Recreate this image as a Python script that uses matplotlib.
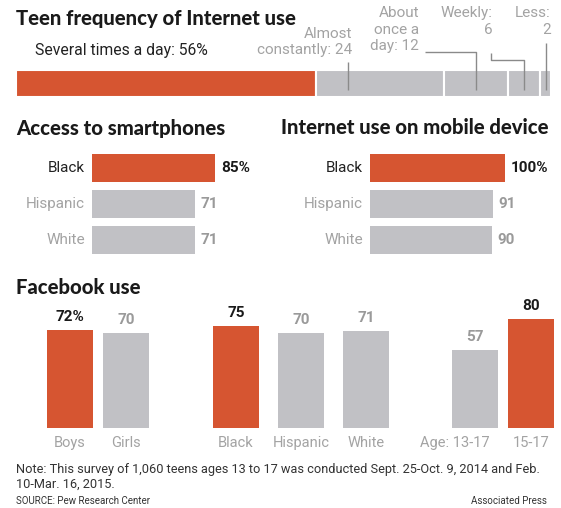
import matplotlib
matplotlib.use("Agg")
import matplotlib.pyplot as plt

# ---- data ----
freq_labels = ["Several times a day", "Almost constantly", "About once a day", "Weekly", "Less"]
freq_values = [56, 24, 12, 6, 2]

race_groups = ["Black", "Hispanic", "White"]
smartphone_access = [85, 71, 71]
mobile_internet = [100, 91, 90]

fb_labels = ["Boys", "Girls", "Black", "Hispanic", "White", "Age: 13-17", "15-17"]
fb_values = [72, 70, 75, 70, 71, 57, 80]
fb_highlight = [True, False, True, False, False, False, True]

ORANGE = "#d65531"
GRAY = "#c1c1c5"
LABEL_GRAY = "#a3a3a3"
DARK = "#1a1a1a"

W, H = 561, 508
plt.rcParams['font.family'] = ['Roboto', 'DejaVu Sans']
fig = plt.figure(figsize=(W / 100, H / 100), dpi=100)


def px_axes(left, top, width, height):
    ax = fig.add_axes([left / W, 1 - (top + height) / H, width / W, height / H])
    ax.axis('off')
    return ax


def ftext(x, y, s, **kw):
    kw.setdefault('va', 'center')
    fig.text(x / W, 1 - y / H, s, **kw)


def title(x, y, s):
    ftext(x, y, s, fontsize=14.6, fontweight='black', color=DARK,
          family=['Lato', 'Roboto', 'DejaVu Sans'])


# ---- top: stacked bar of frequency ----
title(16, 19, "Teen frequency of Internet use")
ax = px_axes(16, 5, 535, 92)
ax.set_xlim(0, 100)
ax.set_ylim(0, 92)
starts = [sum(freq_values[:i]) for i in range(len(freq_values))]
centers = [s + v / 2 for s, v in zip(starts, freq_values)]
colors = [ORANGE] + [GRAY] * (len(freq_values) - 1)
ax.barh(13.5, freq_values, left=starts, height=27, color=colors,
        edgecolor='white', linewidth=1.5)

line_kw = dict(color='#8a8a8a', lw=1, solid_capstyle='butt')
ax.plot([starts[1] + 6, starts[1] + 6], [97 - 62, 97 - 90], **line_kw)
ax.plot([76.4, centers[2], centers[2]], [97 - 52, 97 - 52, 97 - 90], **line_kw)
ax.plot([88.8, 88.8, centers[3], centers[3]], [97 - 53, 97 - 60, 97 - 60, 97 - 90], **line_kw)
ax.plot([centers[4], centers[4]], [97 - 43, 97 - 90], **line_kw)

ftext(35, 51, "%s: %d%%" % (freq_labels[0], freq_values[0]), fontsize=11.3, color='#222222')
tk = dict(fontsize=11, color=LABEL_GRAY, ha='right')
ftext(352, 34, "Almost", **tk)
ftext(352, 50, "constantly: %d" % freq_values[1], **tk)
ftext(419, 13, "About", **tk)
ftext(419, 30, "once a", **tk)
ftext(419, 46, "day: %d" % freq_values[2], **tk)
ftext(493, 13, "Weekly:", **tk)
ftext(493, 30, "%d" % freq_values[3], **tk)
ftext(551, 13, "Less:", **tk)
ftext(551, 30, "%d" % freq_values[4], **tk)


# ---- middle: two horizontal bar panels ----
def hpanel(left, width, values, name, tx):
    title(tx, 128, name)
    a = px_axes(left, 150, width, 108)
    a.set_xlim(0, 100)
    a.set_ylim(2.5, -0.5)
    ys = range(len(values))
    cols = [ORANGE] + [GRAY] * (len(values) - 1)
    a.barh(ys, values, height=0.8, color=cols)
    for i, v in enumerate(values):
        first = i == 0
        a.annotate(race_groups[i], (0, i), xytext=(-7, 0), textcoords='offset pixels',
                   ha='right', va='center', fontsize=11,
                   color='#222222' if first else LABEL_GRAY)
        a.annotate("%d%%" % v if first else "%d" % v, (v, i), xytext=(6, 0),
                   textcoords='offset pixels', ha='left', va='center',
                   fontsize=11, fontweight='bold',
                   color=DARK if first else '#9a9a9a')


hpanel(92, 144.7, smartphone_access, "Access to smartphones", 16)
hpanel(370, 135, mobile_internet, "Internet use on mobile device", 281)

# ---- bottom: facebook use ----
title(16, 287, "Facebook use")
fb_x = [70, 126, 236, 301, 366, 475, 531]  # bar centres, in pixels
label_shift = [0, 0, 0, 0, 0, -20, 0]
axb = px_axes(0, 292, W, 136)
axb.set_xlim(0, W)
axb.set_ylim(0, 100)
axb.bar(fb_x, fb_values, width=46,
        color=[ORANGE if h else GRAY for h in fb_highlight])
for i, v in enumerate(fb_values):
    axb.annotate("%d%%" % v if i == 0 else "%d" % v, (fb_x[i], v), xytext=(0, 6),
                 textcoords='offset pixels', ha='center', va='bottom',
                 fontsize=11, fontweight='bold',
                 color=DARK if fb_highlight[i] else '#9a9a9a')
    axb.annotate(fb_labels[i], (fb_x[i], 0), xytext=(label_shift[i], -8),
                 textcoords='offset pixels', ha='center', va='top',
                 fontsize=10.5, color=LABEL_GRAY)

# ---- footer ----
ftext(16, 469, "Note: This survey of 1,060 teens ages 13 to 17 was conducted Sept. 25-Oct. 9, 2014 and Feb.",
      fontsize=9.2, color='#333333')
ftext(16, 484, "10-Mar. 16, 2015.", fontsize=9.2, color='#333333')
ftext(16, 501, "SOURCE: Pew Research Center", fontsize=7, color='#333333')
ftext(547, 501, "Associated Press", fontsize=7, color='#333333', ha='right')

fig.savefig("out.png", dpi=100, facecolor='white')
